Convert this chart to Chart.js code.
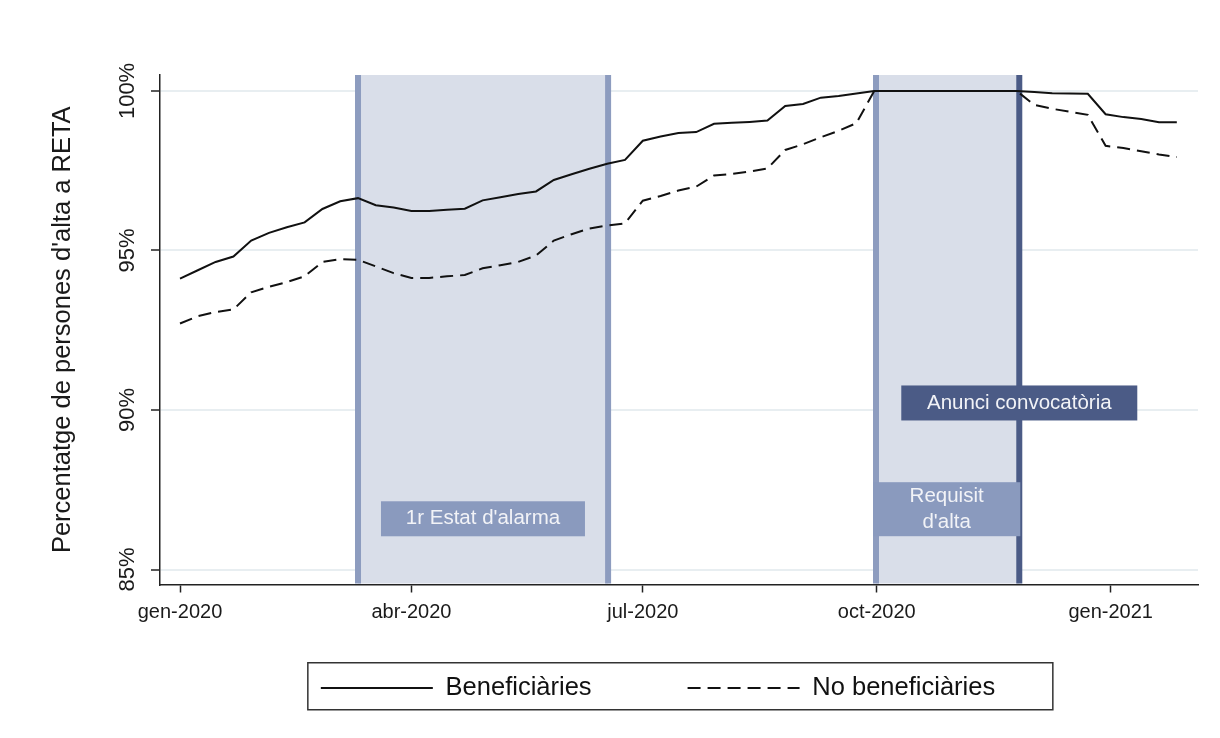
<!DOCTYPE html>
<html>
<head>
<meta charset="utf-8">
<script src="https://cdn.jsdelivr.net/npm/chart.js@4.4.1/dist/chart.umd.min.js"></script>
<style>
  html, body { margin: 0; padding: 0; background: #fff; }
  #wrap { width: 1220px; height: 738px; }
</style>
</head>
<body>
<div id="wrap"><canvas id="myChart-reta"></canvas></div>
<script>
// percentatge setmanal d'alta a RETA (setmana 0 = 1 gen 2020)
const beneficiaries = [94.12, 94.38, 94.64, 94.81, 95.31, 95.55, 95.73, 95.88, 96.30, 96.54,
    96.64, 96.42, 96.35, 96.24, 96.24, 96.28, 96.31, 96.57, 96.67, 96.77,
    96.85, 97.21, 97.39, 97.56, 97.72, 97.84, 98.44, 98.57, 98.68, 98.71,
    98.97, 99.00, 99.03, 99.07, 99.53, 99.59, 99.79, 99.84, 99.92, 100,
    100, 100, 100, 100, 100, 100, 100, 100, 99.97, 99.93,
    99.92, 99.91, 99.27, 99.18, 99.12, 99.02, 99.02];
const noBeneficiaries = [92.71, 92.94, 93.07, 93.15, 93.69, 93.86, 94.01, 94.19, 94.64, 94.73,
    94.71, 94.50, 94.29, 94.14, 94.14, 94.19, 94.23, 94.44, 94.54, 94.64,
    94.84, 95.31, 95.51, 95.69, 95.78, 95.85, 96.56, 96.71, 96.88, 97.00,
    97.35, 97.40, 97.47, 97.57, 98.15, 98.33, 98.55, 98.75, 98.99, 100,
    100, 100, 100, 100, 100, 100, 100, 100, 99.56, 99.44,
    99.35, 99.25, 98.28, 98.21, 98.11, 98.01, 97.93];
const setmanes = beneficiaries.map((_, i) => i);

const tickWeeks = [0, 91 / 7, 182 / 7, 274 / 7, 366 / 7];
const tickLabels = ['gen-2020', 'abr-2020', 'jul-2020', 'oct-2020', 'gen-2021'];
const yTicks = [85, 90, 95, 100];

// periodes en setmanes
const estatAlarma = [10, 24.05];
const requisitAlta = [39.1, 47.15];

const FONT = '"Liberation Sans", Arial, sans-serif';

const bandes = {
    id: 'bandes',
    afterLayout(chart) {
        // llegenda: posicio com a l'original
        const lg = chart.legend;
        const h = lg.bottom - lg.top;
        lg.left -= 21;
        lg.right -= 21;
        lg.top = 688 - 12.75 - lg.options.labels.padding;
        lg.bottom = lg.top + h;
    },
    beforeDatasetsDraw(chart) {
        const {ctx, chartArea: a, scales: {x, y}} = chart;
        const top = a.top, h = a.bottom - a.top - 1;
        ctx.save();
        function banda(from, to, colorDreta) {
            const x0 = x.getPixelForValue(from), x1 = x.getPixelForValue(to);
            ctx.fillStyle = '#d9dee9';
            ctx.fillRect(x0, top, x1 - x0, h);
            ctx.fillStyle = '#8d9cbf';
            ctx.fillRect(x0 - 3, top, 6, h);
            ctx.fillStyle = colorDreta;
            ctx.fillRect(x1 - 3, top, 6, h);
        }
        banda(estatAlarma[0], estatAlarma[1], '#8d9cbf');
        banda(requisitAlta[0], requisitAlta[1], '#4b5b86');

        ctx.font = '20.5px ' + FONT;
        ctx.textAlign = 'center';
        ctx.textBaseline = 'middle';
        function etiqueta(lines, left, right, cy, hgt, fons) {
            ctx.fillStyle = fons;
            ctx.fillRect(left, cy - hgt / 2, right - left, hgt);
            ctx.fillStyle = '#f2f3f7';
            const cx = (left + right) / 2;
            lines.forEach((t, i) => {
                ctx.fillText(t, cx, cy + (i - (lines.length - 1) / 2) * 26);
            });
        }
        const cx1 = x.getPixelForValue(17.02);
        etiqueta(["1r Estat d'alarma"], cx1 - 102, cx1 + 102, y.getPixelForValue(86.59), 35, '#8a9abe');
        const cx2 = x.getPixelForValue(requisitAlta[1]);
        etiqueta(['Anunci convocatòria'], cx2 - 118, cx2 + 118, y.getPixelForValue(90.22), 35, '#4b5b86');
        etiqueta(['Requisit', "d'alta"], x.getPixelForValue(requisitAlta[0]) - 3,
            x.getPixelForValue(requisitAlta[1]) + 1, y.getPixelForValue(86.89), 54, '#8a9abe');
        ctx.restore();
    },
    afterDraw(chart) {
        const {ctx} = chart;
        const hb = chart.legend.legendHitBoxes;
        if (!hb || !hb.length) return;
        ctx.save();
        ctx.strokeStyle = '#333';
        ctx.lineWidth = 1.5;
        ctx.strokeRect(hb[0].left - 13, hb[0].top - 12.5, 745, 47);
        ctx.restore();
    }
};

const ctx1 = document.getElementById('myChart-reta').getContext('2d');
const myChart1 = new Chart(ctx1, {
    type: 'line',
    data: {
        datasets: [{
            label: 'Beneficiàries',
            data: setmanes.map(i => ({x: i, y: beneficiaries[i]})),
            borderColor: '#111',
            backgroundColor: 'transparent',
            borderWidth: 2,
            pointRadius: 0,
            tension: 0
        }, {
            label: 'No beneficiàries',
            data: setmanes.map(i => ({x: i, y: noBeneficiaries[i]})),
            borderColor: '#111',
            backgroundColor: 'transparent',
            borderWidth: 2,
            borderDash: [13, 7],
            pointRadius: 0,
            tension: 0
        }]
    },
    options: {
        responsive: true,
        maintainAspectRatio: false,
        animation: false,
        layout: { padding: { left: 40, right: 22, top: 75, bottom: -40 } },
        scales: {
            x: {
                type: 'linear',
                min: -1.124,
                max: 57.19,
                afterBuildTicks: s => { s.ticks = tickWeeks.map(v => ({value: v})); },
                afterFit: s => { s.height = 62; },
                grid: { drawOnChartArea: false, tickLength: 8, tickColor: '#222', tickWidth: 1.5 },
                border: { color: '#222', width: 1.5 },
                ticks: {
                    autoSkip: false, maxRotation: 0, padding: 7.5, color: '#1a1a1a',
                    font: { family: FONT, size: 20 },
                    callback: (v, i) => tickLabels[i]
                }
            },
            y: {
                min: 84.53,
                max: 100.5,
                afterBuildTicks: s => { s.ticks = yTicks.map(v => ({value: v})); },
                afterFit: s => { s.width = 120; },
                grid: { color: '#e8eef1', lineWidth: 2, tickColor: '#222', tickLength: 9, tickWidth: 1.5 },
                border: { color: '#222', width: 1.5 },
                title: {
                    display: true,
                    text: "Percentatge de persones d'alta a RETA",
                    color: '#1a1a1a',
                    font: { family: FONT, size: 25.5 },
                    padding: { top: 7.7, bottom: 0 }
                },
                ticks: {
                    minRotation: 90, maxRotation: 90, crossAlign: 'center', padding: -5,
                    color: '#1a1a1a',
                    font: { family: FONT, size: 22 },
                    callback: v => v + '%'
                }
            }
        },
        plugins: {
            tooltip: { enabled: false },
            legend: {
                position: 'bottom',
                fullSize: false,
                labels: {
                    usePointStyle: true,
                    pointStyle: 'line',
                    pointStyleWidth: 112,
                    padding: 96,
                    color: '#111',
                    font: { family: FONT, size: 25.5 },
                    generateLabels: chart => Chart.defaults.plugins.legend.labels.generateLabels(chart)
                        .map((it, i) => Object.assign(it, {
                            lineDash: chart.data.datasets[i].borderDash || [],
                            lineWidth: chart.data.datasets[i].borderWidth,
                            strokeStyle: chart.data.datasets[i].borderColor
                        }))
                }
            }
        }
    },
    plugins: [bandes]
});
</script>
</body>
</html>
